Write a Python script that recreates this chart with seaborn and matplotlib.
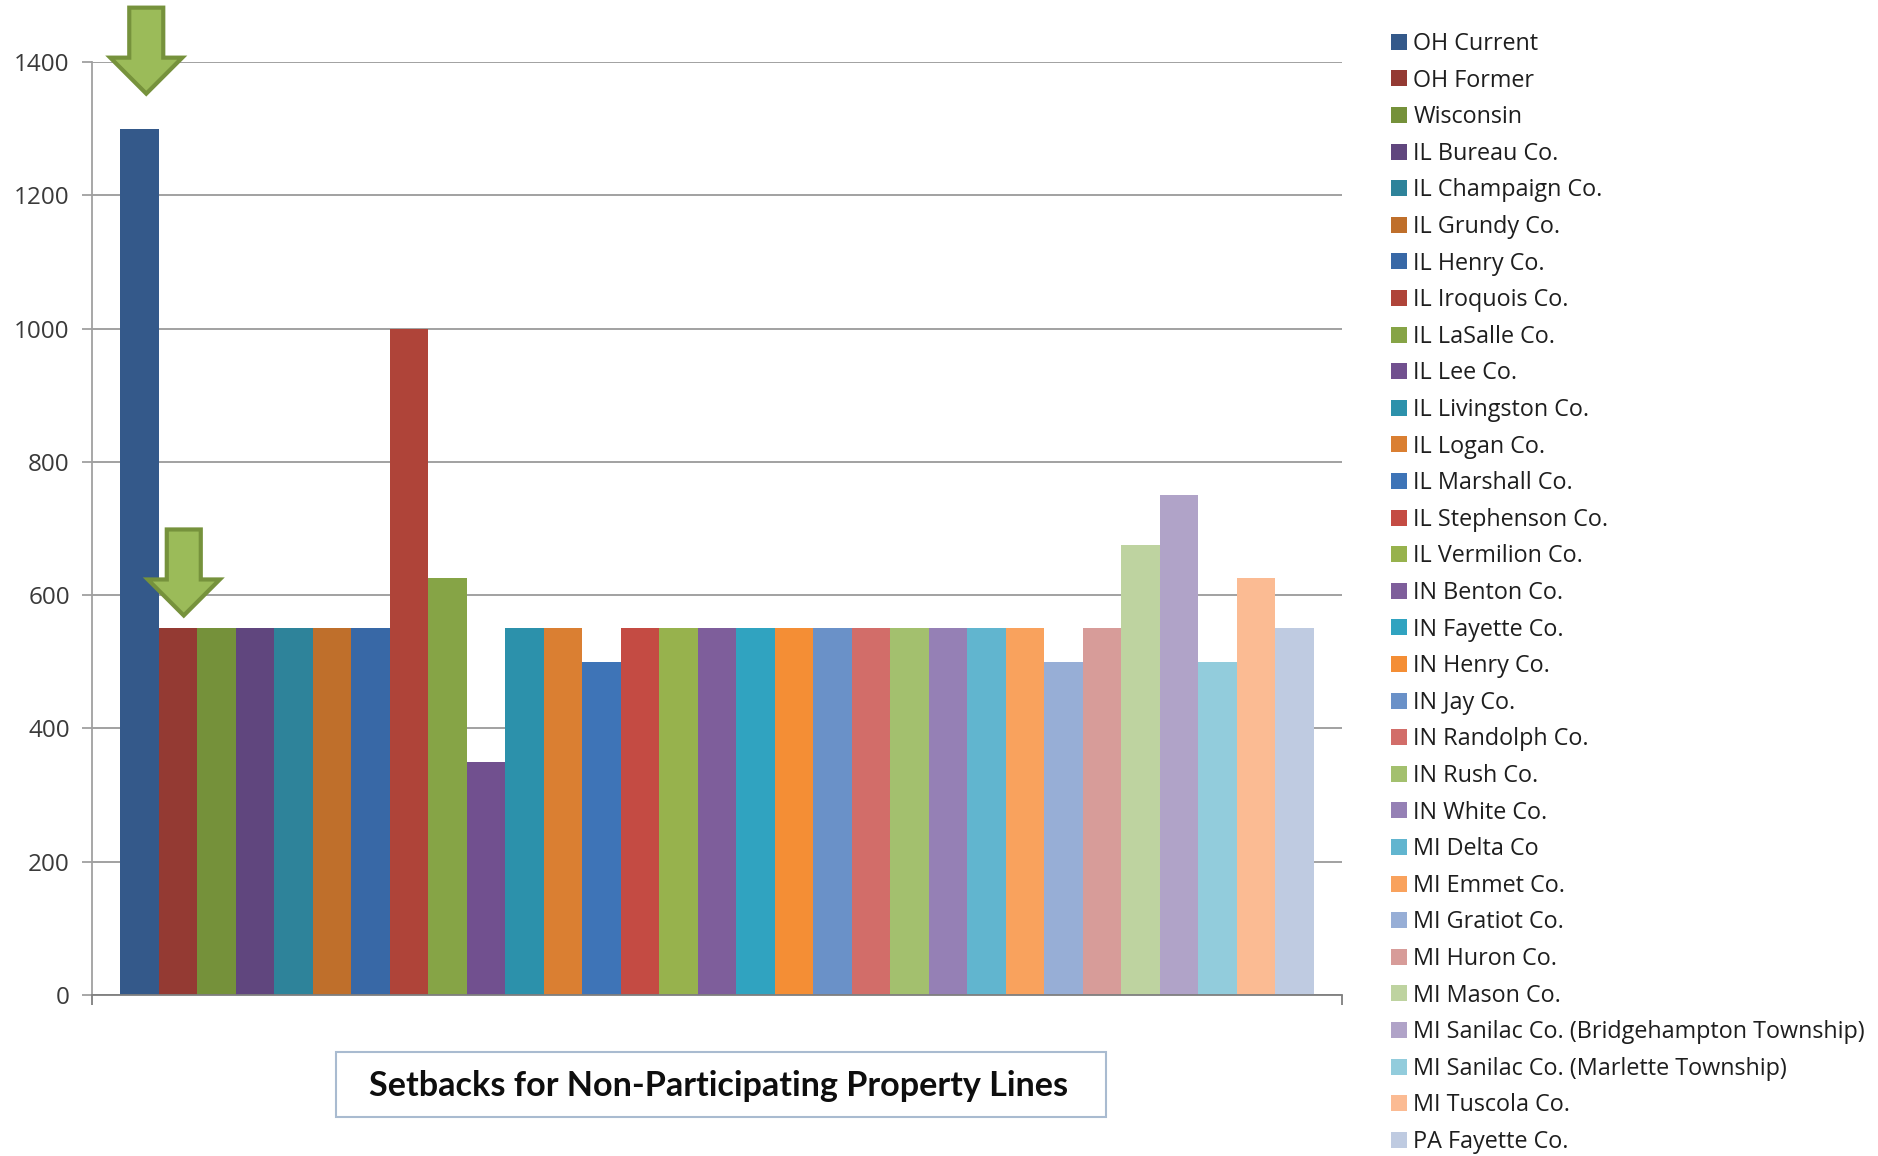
import matplotlib
matplotlib.use("Agg")
import matplotlib.pyplot as plt
import seaborn as sns
import pandas as pd
from matplotlib.patches import Patch, Polygon, Rectangle

# ---------------- data ----------------
names = [
    "OH Current", "OH Former", "Wisconsin", "IL Bureau Co.", "IL Champaign Co.",
    "IL Grundy Co.", "IL Henry Co.", "IL Iroquois Co.", "IL LaSalle Co.", "IL Lee Co.",
    "IL Livingston Co.", "IL Logan Co.", "IL Marshall Co.", "IL Stephenson Co.",
    "IL Vermilion Co.", "IN Benton Co.", "IN Fayette Co.", "IN Henry Co.", "IN Jay Co.",
    "IN Randolph Co.", "IN Rush Co.", "IN White Co.", "MI Delta Co", "MI Emmet Co.",
    "MI Gratiot Co.", "MI Huron Co.", "MI Mason Co.",
    "MI Sanilac Co. (Bridgehampton Township)", "MI Sanilac Co. (Marlette Township)",
    "MI Tuscola Co.", "PA Fayette Co.",
]
values = [1300, 550, 550, 550, 550, 550, 550, 1000, 625, 350, 550, 550, 500, 550, 550,
          550, 550, 550, 550, 550, 550, 550, 550, 550, 500, 550, 675, 750, 500, 625, 550]
colors = [
    "#34598A", "#943A33", "#75913A", "#60467E", "#2E839A", "#BF6F2B",
    "#3868A6", "#AF4439", "#86A446", "#71508F", "#2C91AB", "#DA7F32",
    "#3E74B7", "#C44B43", "#97B24D", "#7E5E9B", "#30A3C0", "#F48E35",
    "#6A91C8", "#D26D69", "#A3C06E", "#9580B5", "#61B5CF", "#F9A25D",
    "#97AED6", "#D79C99", "#BED3A0", "#B0A3C8", "#92CCDC", "#FBBB93", "#BFCBE1",
]
yticks = [0, 200, 400, 600, 800, 1000, 1200, 1400]
title = "Setbacks for Non-Participating Property Lines"
arrow_bars = [0, 1]          # bars marked with an arrow

# ---------------- figure ----------------
sns.set_style("white")
plt.rcParams["font.family"] = ["Open Sans", "DejaVu Sans"]

W, H = 1878, 1156
fig = plt.figure(figsize=(W / 100, H / 100), dpi=100)
ax = fig.add_axes([92 / W, 1 - 995 / H, (1342 - 92) / W, (995 - 62) / H])

df = pd.DataFrame({"name": names, "value": values})
sns.barplot(data=df, x="name", y="value", hue="name", palette=colors,
            width=1.0, dodge=False, legend=False, ax=ax, saturation=1,
            linewidth=0)

ax.set_ylim(0, 1400)
ax.set_xlim(-1.227, len(names) - 1 + 1.227)
ax.set_yticks(yticks)
ax.set_yticklabels([str(t) for t in yticks], fontsize=17.5, color="#3A3A3A")
ax.set_xticks([ax.get_xlim()[0], ax.get_xlim()[1]])
ax.set_xticklabels(["", ""])
ax.set_xlabel("")
ax.set_ylabel("")
ax.grid(axis="y", color="#9A9A9A", linewidth=1.3)
ax.grid(axis="x", visible=False)
ax.set_axisbelow(True)
for s in ["top", "right"]:
    ax.spines[s].set_visible(False)
ax.spines["left"].set_color("#A0A0A0")
ax.spines["left"].set_linewidth(1.3)
ax.spines["bottom"].set_color("#7F7F7F")
ax.spines["bottom"].set_linewidth(1.3)
ax.tick_params(axis="y", direction="out", length=7, width=1.3, color="#A0A0A0", pad=9,
               left=True)
ax.tick_params(axis="x", direction="out", length=7, width=1.3, color="#7F7F7F",
               bottom=True)

# ---------------- legend ----------------
handles = [Patch(facecolor=c, edgecolor="none") for c in colors]
fig.legend(handles, names, loc="upper left",
           bbox_to_anchor=(1391 / W, 1 - 32 / H), frameon=False,
           fontsize=16.8, handlelength=0.68, handleheight=0.68, handletextpad=0.28,
           labelspacing=0.54, borderpad=0, borderaxespad=0, labelcolor="#1E1E1E")

# ---------------- title box ----------------
fig.patches.append(Rectangle((336 / W, 1 - 1117 / H), (1106 - 336) / W, (1117 - 1052) / H,
                             transform=fig.transFigure, facecolor="white",
                             edgecolor="#A9BBD0", linewidth=1.5))
fig.text(719 / W, 1 - 1086 / H, title, ha="center", va="center",
         fontsize=24.6, fontweight="bold", family=["Lato", "DejaVu Sans"], color="#0E0E0E")

# ---------------- arrows ----------------
fig.canvas.draw()
inv = fig.transFigure.inverted()
arrow_specs = {0: (7, 35), 1: (6, 13)}   # pixel offsets (dx, gap above bar)
for i in arrow_bars:
    dx, gap = arrow_specs[i]
    px, py = ax.transData.transform((i, values[i]))
    cx = px + dx
    tip = py + gap
    hh, sw, hw, tot = 36, 34, 72, 86
    pts = [(cx, tip), (cx - hw / 2, tip + hh), (cx - sw / 2, tip + hh),
           (cx - sw / 2, tip + tot), (cx + sw / 2, tip + tot),
           (cx + sw / 2, tip + hh), (cx + hw / 2, tip + hh)]
    pts = inv.transform(pts)
    fig.patches.append(Polygon(pts, closed=True, transform=fig.transFigure,
                               facecolor="#9BBB59", edgecolor="#76923C",
                               linewidth=3, joinstyle="miter"))

fig.savefig("out.png", dpi=100)
